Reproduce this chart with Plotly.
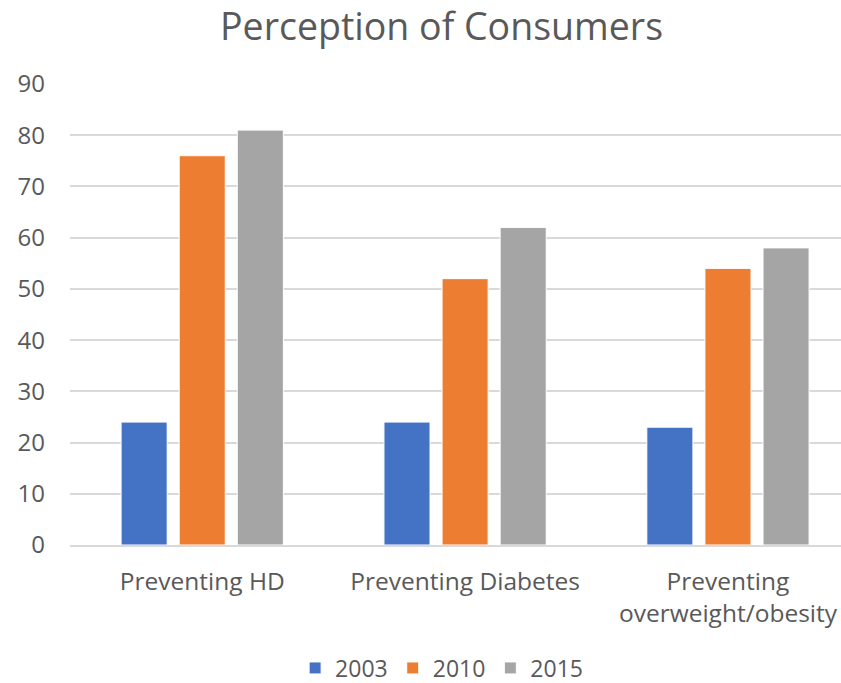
import plotly.graph_objects as go

categories = ["Preventing HD", "Preventing Diabetes", "Preventing<br>overweight/obesity"]
series_names = ["2003", "2010", "2015"]
values_2003 = [24, 24, 23]
values_2010 = [76, 52, 54]
values_2015 = [81, 62, 58]
colors = ["#4472C4", "#ED7D31", "#A5A5A5"]

TEXT = "#595959"
FONT = "Open Sans"

fig = go.Figure()
for name, vals, col in zip(series_names, [values_2003, values_2010, values_2015], colors):
    fig.add_trace(go.Bar(
        x=categories, y=vals, name=name,
        marker=dict(color=col, line=dict(color="white", width=1)),
    ))

fig.update_layout(
    width=841, height=683,
    paper_bgcolor="white", plot_bgcolor="white",
    margin=dict(l=70, r=0, t=84, b=138, autoexpand=False),
    barmode="group", bargap=0.337, bargroupgap=0.207,
    font=dict(family=FONT, color=TEXT, size=24),
    title=dict(text="Perception of Consumers", x=0.525, xanchor="center",
               y=0.96, yanchor="middle",
               font=dict(family=FONT, size=37.5, color=TEXT)),
    xaxis=dict(showgrid=False, showline=True, linecolor="#D9D9D9", linewidth=1.5,
               range=[-0.503, 2.43], ticks="", ticklabelstandoff=14, automargin=False,
               tickfont=dict(size=24.5, color=TEXT)),
    yaxis=dict(range=[0, 90], dtick=10, showgrid=True, gridcolor="#D9D9D9", gridwidth=1.5,
               zeroline=False, showline=False, ticks="", ticklabelstandoff=24, automargin=False,
               tickfont=dict(size=24, color=TEXT)),
    legend=dict(orientation="h", x=0.482, xanchor="center", y=-0.2668, yanchor="middle",
                font=dict(size=23, color=TEXT), itemwidth=30, traceorder="normal"),
    showlegend=True,
)

fig.write_html("out.html")
